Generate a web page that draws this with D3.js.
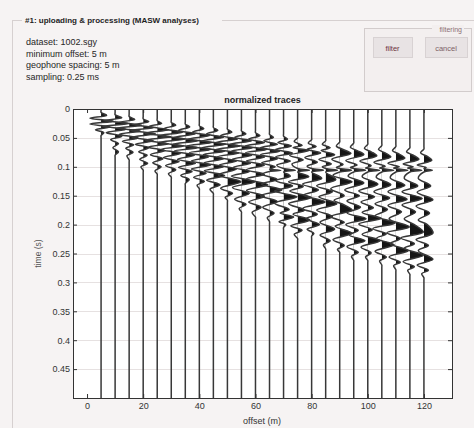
<!DOCTYPE html>
<html>
<head>
<meta charset="utf-8">
<script src="https://cdn.jsdelivr.net/npm/d3@7"></script>
<style>
  html, body { margin: 0; padding: 0; background: #f6f3f3; }
  svg { display: block; font-family: "Liberation Sans", Arial, sans-serif; }
</style>
</head>
<body>
<svg id="chart" width="474" height="428"></svg>
<script>
// Shot gather: 24 geophones, 5 m spacing, first at 5 m
const offsets = [5, 10, 15, 20, 25, 30, 35, 40, 45, 50, 55, 60,
                 65, 70, 75, 80, 85, 90, 95, 100, 105, 110, 115, 120];

// Wiggle samples per trace: [time (s), normalized amplitude]
const traceSamples = [
  [[0.006,0],[0.011,0.5],[0.016,-1.0],[0.021,1.1],[0.026,-1.0],[0.031,0.8],[0.036,-0.5],[0.041,0.25],[0.046,0]],
  [[0.010,0],[0.015,0.6],[0.020,-1.0],[0.025,1.2],[0.030,-1.1],[0.035,1.0],[0.041,-0.8],[0.047,0.6],[0.053,-0.4],[0.060,0.3],[0.067,-0.2],[0.074,0.3],[0.080,0]],
  [[0.013,0],[0.018,0.5],[0.023,-0.9],[0.028,1.1],[0.033,-1.1],[0.038,1.0],[0.044,-0.9],[0.050,0.8],[0.056,-0.6],[0.062,0.4],[0.068,-0.3],[0.075,0.35],[0.081,-0.2],[0.088,0]],
  [[0.017,0],[0.022,0.5],[0.027,-0.8],[0.032,1.0],[0.037,-1.1],[0.043,1.1],[0.049,-1.0],[0.055,0.9],[0.061,-0.7],[0.067,0.5],[0.074,-0.4],[0.080,0.35],[0.087,-0.3],[0.094,0.4],[0.100,-0.2],[0.106,0]],
  [[0.020,0],[0.025,0.4],[0.030,-0.7],[0.036,1.0],[0.042,-1.1],[0.048,1.2],[0.054,-1.1],[0.060,1.0],[0.066,-0.8],[0.072,0.7],[0.079,-0.6],[0.086,0.5],[0.093,-0.4],[0.100,0.35],[0.107,-0.2],[0.113,0]],
  [[0.023,0],[0.028,0.4],[0.034,-0.7],[0.040,1.0],[0.046,-1.1],[0.052,1.2],[0.058,-1.1],[0.064,1.1],[0.070,-0.9],[0.077,0.8],[0.084,-0.7],[0.091,0.7],[0.098,-0.5],[0.105,0.4],[0.112,-0.25],[0.118,0]],
  [[0.026,0],[0.031,0.4],[0.037,-0.6],[0.043,0.9],[0.049,-1.0],[0.055,1.1],[0.061,-1.1],[0.067,1.1],[0.073,-1.0],[0.080,0.8],[0.087,-0.7],[0.094,0.9],[0.101,-0.6],[0.108,0.6],[0.115,-0.4],[0.122,0.35],[0.129,0]],
  [[0.029,0],[0.034,0.4],[0.040,-0.6],[0.046,0.9],[0.052,-1.0],[0.058,1.1],[0.064,-1.1],[0.070,1.0],[0.076,-0.9],[0.083,0.8],[0.090,-0.7],[0.097,1.0],[0.104,-0.7],[0.111,0.6],[0.118,-0.5],[0.125,0.45],[0.132,-0.2],[0.138,0]],
  [[0.032,0],[0.037,0.4],[0.043,-0.6],[0.049,0.9],[0.055,-1.0],[0.061,1.1],[0.067,-1.0],[0.073,1.0],[0.079,-0.9],[0.086,0.9],[0.093,-0.8],[0.100,0.9],[0.107,-0.8],[0.115,1.0],[0.123,-0.6],[0.131,0.6],[0.139,-0.3],[0.146,0]],
  [[0.035,0],[0.040,0.4],[0.046,-0.6],[0.052,0.9],[0.058,-1.0],[0.064,1.1],[0.070,-1.0],[0.076,1.0],[0.083,-0.9],[0.090,0.8],[0.097,-0.7],[0.104,0.8],[0.114,-0.8],[0.126,1.2],[0.137,-0.6],[0.146,0.45],[0.153,-0.2],[0.158,0]],
  [[0.038,0],[0.043,0.4],[0.049,-0.6],[0.055,0.9],[0.061,-1.0],[0.067,1.0],[0.073,-0.9],[0.080,0.9],[0.087,-0.8],[0.094,0.8],[0.101,-0.7],[0.108,0.7],[0.116,-0.9],[0.126,1.2],[0.136,-0.8],[0.146,0.7],[0.156,-0.6],[0.165,0.4],[0.172,-0.2],[0.178,0]],
  [[0.041,0],[0.046,0.4],[0.052,-0.6],[0.058,0.8],[0.064,-0.9],[0.070,1.0],[0.076,-0.9],[0.083,0.8],[0.090,-0.8],[0.097,0.8],[0.105,-0.8],[0.113,0.8],[0.121,-0.8],[0.131,1.1],[0.141,-0.8],[0.151,0.8],[0.161,-0.6],[0.170,0.5],[0.179,-0.3],[0.187,0]],
  [[0.044,0],[0.049,0.35],[0.055,-0.5],[0.061,0.7],[0.067,-0.8],[0.073,0.9],[0.079,-0.8],[0.086,0.7],[0.093,-0.7],[0.100,0.5],[0.104,0],[0.106,1.0],[0.108,0],[0.113,-0.7],[0.122,0.7],[0.130,-0.7],[0.140,1.1],[0.150,-0.8],[0.160,0.7],[0.170,-0.6],[0.180,0.4],[0.188,-0.2],[0.195,0]],
  [[0.047,0],[0.052,0.35],[0.058,-0.5],[0.064,0.7],[0.070,-0.7],[0.076,0.8],[0.083,-0.7],[0.090,0.6],[0.097,-0.6],[0.103,0],[0.106,1.05],[0.109,0],[0.116,0.6],[0.124,-0.7],[0.133,0.8],[0.142,-0.8],[0.152,1.2],[0.163,-0.8],[0.174,0.5],[0.180,-0.3],[0.187,0.9],[0.195,-0.4],[0.200,0.2],[0.205,0]],
  [[0.050,0],[0.056,-0.3],[0.063,0.4],[0.067,-0.4],[0.072,1.0],[0.080,-0.7],[0.088,0.5],[0.095,-0.5],[0.103,0],[0.106,1.05],[0.109,0],[0.117,1.0],[0.126,-0.8],[0.134,0.5],[0.142,-0.7],[0.153,1.2],[0.164,-0.8],[0.175,0.6],[0.182,-0.4],[0.192,1.1],[0.202,-0.6],[0.210,0.4],[0.217,-0.3],[0.224,0]],
  [[0.053,0],[0.059,-0.3],[0.065,0.4],[0.070,-0.4],[0.076,0.8],[0.084,-0.6],[0.092,0.5],[0.099,-0.4],[0.103,0],[0.106,1.05],[0.109,0],[0.120,0.9],[0.130,-0.8],[0.140,0.6],[0.149,-0.7],[0.161,1.2],[0.172,-0.8],[0.182,0.5],[0.190,-0.5],[0.200,0.7],[0.208,-0.4],[0.215,0.2],[0.220,0]],
  [[0.055,0],[0.061,-0.3],[0.067,0.4],[0.072,-0.4],[0.079,0.8],[0.087,-0.6],[0.095,0.5],[0.100,-0.3],[0.103,0],[0.106,1.05],[0.109,0],[0.122,0.9],[0.133,-0.8],[0.143,0.6],[0.152,-0.6],[0.164,1.0],[0.175,-0.8],[0.186,0.6],[0.196,-0.5],[0.208,0.8],[0.218,-0.5],[0.228,0.4],[0.235,-0.2],[0.242,0]],
  [[0.057,0],[0.064,-0.3],[0.070,0.3],[0.077,1.0],[0.087,-0.7],[0.096,0.3],[0.101,-0.3],[0.103,0],[0.106,1.05],[0.109,0],[0.115,-0.6],[0.126,1.1],[0.138,-0.8],[0.150,0.4],[0.158,-0.5],[0.166,0.4],[0.175,1.1],[0.186,-0.8],[0.196,0.4],[0.203,-0.4],[0.215,1.1],[0.226,-0.6],[0.236,0.4],[0.243,-0.2],[0.248,0]],
  [[0.059,0],[0.066,-0.3],[0.072,0.3],[0.079,0.9],[0.089,-0.7],[0.097,0.3],[0.101,-0.3],[0.103,0],[0.106,1.05],[0.109,0],[0.116,-0.5],[0.128,0.9],[0.140,-0.8],[0.150,0.5],[0.159,-0.6],[0.170,0.6],[0.180,-0.6],[0.190,1.1],[0.200,-0.7],[0.210,0.4],[0.218,-0.4],[0.228,1.0],[0.238,-0.6],[0.248,0.4],[0.255,-0.2],[0.262,0]],
  [[0.061,0],[0.068,-0.3],[0.074,0.3],[0.081,0.8],[0.090,-0.7],[0.098,0.3],[0.102,-0.2],[0.103,0],[0.106,1.05],[0.109,0],[0.117,-0.5],[0.130,0.9],[0.142,-0.8],[0.152,0.6],[0.161,-0.6],[0.171,0.5],[0.179,-0.5],[0.189,1.2],[0.199,-0.8],[0.209,0.4],[0.217,-0.5],[0.228,1.1],[0.239,-0.6],[0.249,0.3],[0.256,-0.2],[0.262,0]],
  [[0.063,0],[0.070,-0.3],[0.076,0.3],[0.083,0.8],[0.092,-0.7],[0.099,0.3],[0.102,-0.2],[0.103,0],[0.106,1.05],[0.109,0],[0.118,-0.5],[0.131,0.8],[0.143,-0.7],[0.154,0.7],[0.164,-0.6],[0.174,0.5],[0.185,-0.6],[0.197,1.2],[0.207,-0.8],[0.216,0.4],[0.224,-0.5],[0.235,1.1],[0.246,-0.6],[0.256,0.4],[0.263,-0.2],[0.270,0]],
  [[0.065,0],[0.072,-0.3],[0.078,0.3],[0.085,0.8],[0.094,-0.7],[0.100,0.3],[0.102,-0.2],[0.103,0],[0.106,1.05],[0.109,0],[0.119,-0.5],[0.132,0.8],[0.143,-0.7],[0.156,1.0],[0.167,-0.7],[0.178,0.5],[0.190,-0.6],[0.204,1.2],[0.214,-0.8],[0.224,0.4],[0.233,-0.5],[0.245,1.1],[0.256,-0.6],[0.265,0.4],[0.271,-0.2],[0.278,0]],
  [[0.067,0],[0.074,-0.3],[0.080,0.3],[0.087,0.8],[0.095,-0.6],[0.100,0.3],[0.102,-0.2],[0.103,0],[0.106,1.05],[0.109,0],[0.120,-0.5],[0.133,0.7],[0.143,-0.7],[0.155,1.1],[0.166,-0.7],[0.178,0.5],[0.190,-0.5],[0.200,0.4],[0.213,1.2],[0.223,-0.8],[0.233,0.4],[0.241,-0.5],[0.253,1.2],[0.264,-0.6],[0.273,0.4],[0.279,-0.2],[0.286,0]],
  [[0.069,0],[0.076,-0.3],[0.082,0.3],[0.089,0.7],[0.097,-0.6],[0.101,0.2],[0.103,0],[0.106,0.75],[0.109,0],[0.120,-0.5],[0.133,0.6],[0.144,-0.6],[0.157,0.8],[0.168,-0.7],[0.180,0.5],[0.192,-0.5],[0.200,0.3],[0.215,0.8],[0.226,-0.7],[0.236,0.4],[0.245,-0.5],[0.260,0.8],[0.270,-0.6],[0.279,0.4],[0.285,-0.2],[0.292,0]]
];

// Display gain: offset metres per unit of normalized amplitude
const wiggleGain = 4;
const timeRange = [0, 0.5];
const offsetRange = [-5, 130];
const timeTicks = [0, 0.05, 0.1, 0.15, 0.2, 0.25, 0.3, 0.35, 0.4, 0.45];
const timeTickLabels = ["0", "0.05", "0.1", "0.15", "0.2", "0.25", "0.3", "0.35", "0.4", "0.45"];
const offsetTicks = [0, 20, 40, 60, 80, 100, 120];

const panelTitle = "#1: uploading & processing (MASW analyses)";
const infoLines = ["dataset: 1002.sgy", "minimum offset: 5 m", "geophone spacing: 5 m", "sampling: 0.25 ms"];
const plotTitle = "normalized traces";
const xLabel = "offset (m)";
const yLabel = "time (s)";

const svg = d3.select("#chart");
const W = 474, H = 428;
const box = { left: 73, right: 452, top: 109, bottom: 398 };

const x = d3.scaleLinear().domain(offsetRange).range([box.left, box.right]);
const y = d3.scaleLinear().domain(timeRange).range([box.top, box.bottom]);

// Panel frame and header text
svg.append("rect").attr("width", W).attr("height", H).attr("fill", "#f6f3f3");
svg.append("line").attr("x1", 12.5).attr("x2", 12.5).attr("y1", 20).attr("y2", H)
  .attr("stroke", "#d6d0d0").attr("stroke-width", 1);
svg.append("line").attr("x1", 12).attr("x2", 22).attr("y1", 20.5).attr("y2", 20.5)
  .attr("stroke", "#d6d0d0");
svg.append("line").attr("x1", 222).attr("x2", W).attr("y1", 20.5).attr("y2", 20.5)
  .attr("stroke", "#d6d0d0");
svg.append("text").attr("x", 25).attr("y", 23).attr("font-size", 8).attr("font-weight", "bold")
  .attr("fill", "#1e1e1e").text(panelTitle);

svg.append("g").selectAll("text").data(infoLines).join("text")
  .attr("x", 26).attr("y", (d, i) => 45 + i * 11.5)
  .attr("font-size", 9).attr("fill", "#262626").text(d => d);

// Filtering controls
const filt = svg.append("g");
filt.append("rect").attr("x", 364.5).attr("y", 28.5).attr("width", 107).attr("height", 63)
  .attr("fill", "#f3efef").attr("stroke", "#d2cccc");
filt.append("rect").attr("x", 432).attr("y", 25).attr("width", 32).attr("height", 8).attr("fill", "#f3efef");
filt.append("text").attr("x", 462).attr("y", 32).attr("text-anchor", "end")
  .attr("font-size", 7).attr("fill", "#8c6f75").text("filtering");
const buttons = [{ label: "filter", x0: 373, x1: 412, color: "#6e3440" }, { label: "cancel", x0: 425, x1: 467, color: "#7d6066" }];
buttons.forEach(b => {
  filt.append("rect").attr("x", b.x0 + 0.5).attr("y", 37.5).attr("width", b.x1 - b.x0).attr("height", 20)
    .attr("fill", "#e8e3e4").attr("stroke", "#d8d2d3");
  filt.append("text").attr("x", (b.x0 + b.x1) / 2).attr("y", 50.5).attr("text-anchor", "middle")
    .attr("font-size", 7.5).attr("fill", b.color).text(b.label);
});

// Plot background and horizontal grid
svg.append("rect").attr("x", box.left).attr("y", box.top)
  .attr("width", box.right - box.left).attr("height", box.bottom - box.top).attr("fill", "#ffffff");
svg.append("g").selectAll("line").data(timeTicks.slice(1)).join("line")
  .attr("x1", box.left).attr("x2", box.right)
  .attr("y1", d => Math.round(y(d)) + 0.5).attr("y2", d => Math.round(y(d)) + 0.5)
  .attr("stroke", "#e6e1e1").attr("stroke-width", 1);

// Wiggle traces with filled positive lobes
const defs = svg.append("defs");
const traces = svg.append("g");
offsets.forEach((off, i) => {
  const s = traceSamples[i];
  const tFirst = s[0][0], tLast = s[s.length - 1][0];
  // quiet baseline before and after the recorded wavelet keeps the spline straight there
  const pts = [[timeRange[0], 0], [tFirst - 0.004, 0], ...s, [tLast + 0.004, 0], [timeRange[1], 0]];
  const base = x(off);
  const clipId = "pos" + i;
  defs.append("clipPath").attr("id", clipId).append("rect")
    .attr("x", base).attr("y", box.top).attr("width", box.right - base + 20).attr("height", box.bottom - box.top);
  const area = d3.area().curve(d3.curveCatmullRom)
    .y(d => y(d[0])).x0(base).x1(d => x(off + d[1] * wiggleGain));
  const line = d3.line().curve(d3.curveCatmullRom)
    .y(d => y(d[0])).x(d => x(off + d[1] * wiggleGain));
  traces.append("path").attr("d", area(pts)).attr("fill", "#151515")
    .attr("clip-path", `url(#${clipId})`);
  traces.append("path").attr("d", line(pts)).attr("fill", "none")
    .attr("stroke", "#383838").attr("stroke-width", 1.5);
});

// Axes with inward ticks on all four sides
const axisStyle = g => {
  g.select(".domain").remove();
  g.selectAll(".tick line").attr("stroke", "#333");
  g.selectAll(".tick text").attr("fill", "#333").attr("font-size", 9)
    .attr("font-family", "Liberation Sans, Arial, sans-serif");
};
svg.append("g").attr("transform", `translate(${box.left},0)`)
  .call(d3.axisLeft(y).tickValues(timeTicks).tickSize(-4).tickPadding(3)
    .tickFormat((d, i) => timeTickLabels[i]))
  .call(axisStyle);
svg.append("g").attr("transform", `translate(${box.right},0)`)
  .call(d3.axisRight(y).tickValues(timeTicks).tickSize(-4).tickFormat(""))
  .call(axisStyle);
svg.append("g").attr("transform", `translate(0,${box.bottom})`)
  .call(d3.axisBottom(x).tickValues(offsetTicks).tickSize(-4).tickPadding(5))
  .call(axisStyle);
svg.append("g").attr("transform", `translate(0,${box.top})`)
  .call(d3.axisTop(x).tickValues(offsetTicks).tickSize(-4).tickFormat(""))
  .call(axisStyle);
svg.append("rect").attr("x", box.left + 0.5).attr("y", box.top + 0.5)
  .attr("width", box.right - box.left).attr("height", box.bottom - box.top)
  .attr("fill", "none").attr("stroke", "#333").attr("stroke-width", 1);

// Titles
svg.append("text").attr("x", (box.left + box.right) / 2).attr("y", 103).attr("text-anchor", "middle")
  .attr("font-size", 9).attr("font-weight", "bold").attr("fill", "#1e1e1e").text(plotTitle);
svg.append("text").attr("x", 262).attr("y", 424).attr("text-anchor", "middle")
  .attr("font-size", 9).attr("fill", "#333").text(xLabel);
svg.append("text").attr("transform", `translate(41,${(box.top + box.bottom) / 2}) rotate(-90)`)
  .attr("text-anchor", "middle").attr("font-size", 8.5).attr("fill", "#555").text(yLabel);
</script>
</body>
</html>
